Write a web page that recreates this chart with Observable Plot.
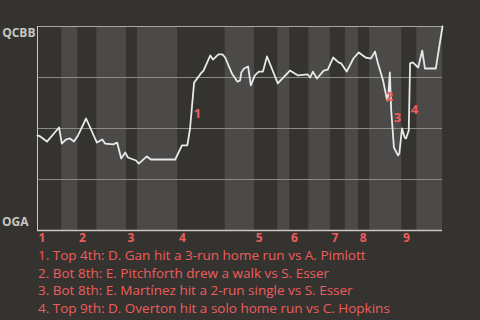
<!DOCTYPE html>
<html>
<head>
<meta charset="utf-8">
<script src="https://cdn.jsdelivr.net/npm/d3@7"></script>
<script src="https://cdn.jsdelivr.net/npm/@observablehq/plot@0.6"></script>
<style>
  html, body { margin: 0; padding: 0; background: #353330; }
  #chart { width: 480px; height: 320px; overflow: hidden; }
  #chart svg { overflow: visible; }
  #caption { font-family: "Open Sans", sans-serif; font-size: 13.5px; color: #ee5d5d; line-height: 17.5px; padding-left: 38px; margin-top: 1px; }
</style>
</head>
<body>
<div id="chart"></div>
<script>
// Team labels
const topTeam = "QCBB";
const bottomTeam = "OGA";

// Half-inning start positions (pitch index), game ends at gameEnd
const halfStarts = [0, 18, 30, 44, 66, 74, 104, 139, 161, 178, 187, 201, 217, 228, 238, 246, 270, 281];
const gameEnd = 300;
const innings = [1, 2, 3, 4, 5, 6, 7, 8, 9];

// Win probability for QCBB (pitch index, probability)
const pitchIdx = [0, 2, 7, 16, 18, 21, 24, 27, 30, 36, 44, 48, 50, 56, 59, 62, 65, 67, 73, 75, 81, 84, 102, 107, 111, 113, 116, 121, 123, 128, 130, 134, 137, 139, 144, 148, 150, 151, 153, 156, 158, 161, 164, 167, 170, 178, 187, 193, 200, 202, 204, 207, 212, 215, 219, 223, 225, 229, 234, 238, 243, 247, 250, 252, 256, 259, 260, 261, 262, 263, 264, 267, 268, 270, 272, 273, 275, 276, 278, 282, 285, 287, 295, 300];
const winProb = [0.466, 0.461, 0.436, 0.505, 0.426, 0.446, 0.451, 0.436, 0.466, 0.549, 0.431, 0.446, 0.426, 0.422, 0.431, 0.353, 0.382, 0.358, 0.343, 0.328, 0.363, 0.348, 0.348, 0.417, 0.417, 0.5, 0.725, 0.770, 0.784, 0.858, 0.838, 0.863, 0.863, 0.848, 0.770, 0.730, 0.735, 0.775, 0.794, 0.804, 0.711, 0.760, 0.779, 0.779, 0.853, 0.721, 0.784, 0.760, 0.765, 0.750, 0.779, 0.745, 0.784, 0.789, 0.848, 0.824, 0.819, 0.779, 0.843, 0.873, 0.848, 0.843, 0.877, 0.824, 0.735, 0.637, 0.676, 0.775, 0.588, 0.5, 0.407, 0.368, 0.377, 0.5, 0.456, 0.451, 0.490, 0.819, 0.824, 0.799, 0.882, 0.794, 0.794, 1.0];

// Key events
const eventLabels = ["1", "2", "3", "4"];
const eventX = [118.5, 260.7, 266.7, 279.3];
const eventY = [0.574, 0.657, 0.554, 0.593];
const eventTexts = [
  "1. Top 4th: D. Gan hit a 3-run home run vs A. Pimlott",
  "2. Bot 8th: E. Pitchforth drew a walk vs S. Esser",
  "3. Bot 8th: E. Martínez hit a 2-run single vs S. Esser",
  "4. Top 9th: D. Overton hit a solo home run vs C. Hopkins"
];

// Grid levels
const gridLevels = [0.25, 0.5, 0.75];

const halves = halfStarts.map((s, i) => ({
  x1: s,
  x2: i + 1 < halfStarts.length ? halfStarts[i + 1] : gameEnd,
  half: i % 2 === 0 ? "top" : "bot"
}));
const points = pitchIdx.map((x, i) => ({x, y: winProb[i]}));
const inningLabels = innings.map((n, i) => ({x: halfStarts[i * 2], label: String(n)}));
const events = eventLabels.map((l, i) => ({x: eventX[i], y: eventY[i], label: l}));

const red = "#ee5d5d";
const font = "Open Sans, sans-serif";

const chart = Plot.plot({
  width: 480,
  height: 246,
  marginTop: 26,
  marginBottom: 16,
  marginLeft: 37,
  marginRight: 38,
  style: {background: "transparent", fontFamily: font, overflow: "visible"},
  x: {domain: [0, gameEnd], axis: null},
  y: {domain: [0, 1], axis: null},
  color: {domain: ["top", "bot"], range: ["#353330", "#4c4a48"]},
  marks: [
    Plot.rectY(halves, {x1: "x1", x2: "x2", y1: 0, y2: 1, fill: "half"}),
    Plot.ruleY(gridLevels, {stroke: "#8c8a87", strokeWidth: 1}),
    Plot.ruleY([1], {stroke: "#a8a6a3", strokeWidth: 1}),
    Plot.ruleY([0], {stroke: "#c8c6c3", strokeWidth: 1.5}),
    Plot.ruleX([0], {stroke: "#c8c6c3", strokeWidth: 1}),
    Plot.line(points, {x: "x", y: "y", stroke: "#e8e8e8", strokeWidth: 1.8}),
    Plot.text(events, {x: "x", y: "y", text: "label", fill: red, fontWeight: "bold", fontSize: 13}),
    Plot.text(inningLabels, {x: "x", y: 0, text: "label", fill: red, fontWeight: "bold", fontSize: 12, textAnchor: "start", dx: 1, dy: 8}),
    Plot.text([topTeam], {x: 0, y: 1, text: d => d, fill: "#c8c6c3", fontWeight: "bold", fontSize: 12, textAnchor: "end", dx: -2, dy: 7}),
    Plot.text([bottomTeam], {x: 0, y: 0, text: d => d, fill: "#c8c6c3", fontWeight: "bold", fontSize: 12, textAnchor: "end", dx: -9, dy: -8})
  ]
});
const container = document.getElementById("chart");
container.appendChild(chart);
const cap = document.createElement("div");
cap.id = "caption";
eventTexts.forEach(t => { const d = document.createElement("div"); d.textContent = t; cap.appendChild(d); });
container.appendChild(cap);
</script>
</body>
</html>
